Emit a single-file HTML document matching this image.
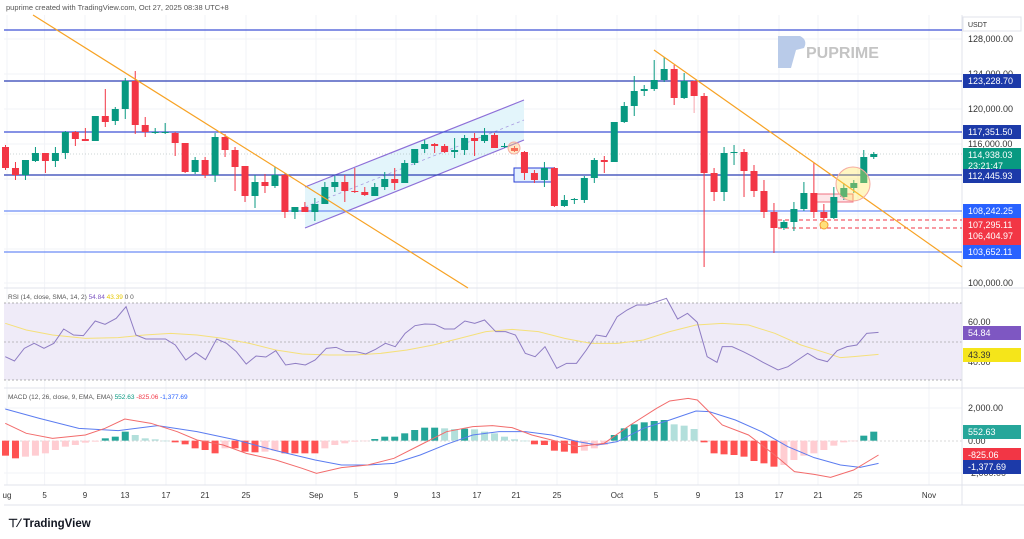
<!DOCTYPE html>
<html><head><meta charset="utf-8"><style>
body{margin:0;background:#fff;width:1024px;height:539px;overflow:hidden;font-family:"Liberation Sans",sans-serif}
svg{display:block}
</style></head><body>
<svg id="s" width="1024" height="539" xmlns="http://www.w3.org/2000/svg" font-family="Liberation Sans, sans-serif">
<rect width="1024" height="539" fill="#fff"/>
<text x="6" y="10" font-size="7.5" fill="#555">puprime created with TradingView.com, Oct 27, 2025 08:38 UTC+8</text>
<g id="grid"></g>
<!-- RSI band -->
<rect x="4" y="303" width="958" height="77" fill="#efebf8"/>
<line x1="4" y1="303" x2="962" y2="303" stroke="#999" stroke-dasharray="2,2" stroke-width="0.7"/>
<line x1="4" y1="342" x2="962" y2="342" stroke="#aaa" stroke-dasharray="2,2" stroke-width="0.7"/>
<line x1="4" y1="380" x2="962" y2="380" stroke="#999" stroke-dasharray="2,2" stroke-width="0.7"/>
<line x1="4" y1="441" x2="962" y2="441" stroke="#ccc" stroke-dasharray="2,2" stroke-width="0.7"/>
<!-- separators -->
<line x1="4" y1="288" x2="1024" y2="288" stroke="#e0e3eb"/>
<line x1="4" y1="388" x2="1024" y2="388" stroke="#e0e3eb"/>
<line x1="4" y1="485" x2="1024" y2="485" stroke="#e0e3eb"/>
<line x1="4" y1="505" x2="1024" y2="505" stroke="#e0e3eb"/>
<line x1="962" y1="15" x2="962" y2="505" stroke="#e0e3eb"/>
<!-- watermark -->
<path d="M778 36 L800 36 Q808 40 804 48 L796 50 L791 68 L778 68 Z" fill="#b9cbe9"/>
<text x="806" y="58" font-size="16" font-weight="bold" fill="#c4c4c4">PUPRIME</text>
<!-- channel -->
<polygon points="305,187 524,100 524,140 305,228" fill="#e3f5fb"/>
<line x1="305" y1="187" x2="524" y2="100" stroke="#8d6fd8" stroke-width="1.2"/>
<line x1="305" y1="228" x2="524" y2="140" stroke="#8d6fd8" stroke-width="1.2"/>
<line x1="305" y1="207" x2="524" y2="120" stroke="#a99be0" stroke-width="0.8" stroke-dasharray="3,3"/>
<!-- horizontal levels -->
<g stroke-width="1.3">
<line x1="4" y1="30" x2="962" y2="30" stroke="#3d52d5"/>
<line x1="4" y1="81" x2="962" y2="81" stroke="#2b3fb5"/>
<line x1="4" y1="132" x2="962" y2="132" stroke="#3d52d5"/>
<line x1="4" y1="175" x2="962" y2="175" stroke="#2b3fb5"/>
<line x1="4" y1="211" x2="962" y2="211" stroke="#6c8cf5"/>
<line x1="4" y1="252" x2="962" y2="252" stroke="#6c8cf5"/>
</g>
<line x1="4" y1="154" x2="962" y2="154" stroke="#9aa" stroke-width="0.6" stroke-dasharray="1,2"/>
<line x1="778" y1="220" x2="962" y2="220" stroke="#f23645" stroke-dasharray="4,3"/>
<line x1="778" y1="228" x2="962" y2="228" stroke="#f23645" stroke-dasharray="4,3"/>
<rect x="514" y="168" width="40" height="14" fill="#e3f0ff" stroke="#2b3fd5" stroke-width="1"/>
<rect x="814" y="194" width="39" height="8" fill="#fde6e8" stroke="#f07080" stroke-width="1"/>
<g id="candles"></g>
<!-- orange trendlines -->
<line x1="33" y1="15" x2="468" y2="288" stroke="#f7a224" stroke-width="1.2"/>
<line x1="654" y1="50" x2="962" y2="267" stroke="#f7a224" stroke-width="1.2"/>
<circle cx="853" cy="184" r="17" fill="rgba(255,230,80,0.35)" stroke="#f5a9a0" stroke-width="1"/>
<circle cx="514" cy="148" r="6" fill="rgba(255,200,120,0.4)" stroke="#f5a9a0"/>
<circle cx="824" cy="225" r="4" fill="#ffe07a" stroke="#f5a030"/>
<g id="ind"></g>
<!-- labels -->
<text x="8" y="299" font-size="6.5" fill="#555">RSI (14, close, SMA, 14, 2) <tspan fill="#7e57c2">54.84</tspan> <tspan fill="#e6c800">43.39</tspan> 0 0</text>
<text x="8" y="399" font-size="6.5" fill="#555">MACD (12, 26, close, 9, EMA, EMA) <tspan fill="#089981">552.63</tspan> <tspan fill="#f23645">-825.06</tspan> <tspan fill="#2962ff">-1,377.69</tspan></text>
<g id="axis" font-size="9" fill="#333"></g>
<g id="time" font-size="8" fill="#333" text-anchor="middle"></g>
<text x="8" y="527" font-size="11.5" font-weight="bold" fill="#131722">⊤⁄ TradingView</text>
</svg>
<script>
const NS="http://www.w3.org/2000/svg";
function el(p,t,a,txt){const e=document.createElementNS(NS,t);for(const k in a)e.setAttribute(k,a[k]);if(txt!==undefined)e.textContent=txt;document.getElementById(p).appendChild(e);return e;}
const X=i=>5.5+9.98*i;
// grid
const tl=[[7,"ug"],[44.6,"5"],[85,"9"],[125,"13"],[166,"17"],[205,"21"],[246,"25"],[316,"Sep"],[356,"5"],[396,"9"],[436,"13"],[477,"17"],[516,"21"],[557,"25"],[617,"Oct"],[656,"5"],[698,"9"],[739,"13"],[779,"17"],[818,"21"],[858,"25"],[929,"Nov"]];
tl.forEach(t=>{el("grid","line",{x1:t[0],x2:t[0],y1:15,y2:485,stroke:"#f2f3f7"});el("time","text",{x:t[0],y:498},t[1]);});
[39,74,109,144,179,214,249,283,322,362,408,473].forEach(y=>el("grid","line",{x1:4,x2:962,y1:y,y2:y,stroke:"#f2f3f7"}));
// candles [g/r, bodyTop, bodyBot, wickTop, wickBot]
const C=[
["r",147,168,145,170],["r",168,175,162,180],["g",160,175,160,180],["g",153,161,147,162],["r",153,161,153,173],["g",153,161,147,167],["g",132,153,131,159],["r",132,139,131,146],["r",139,141,128,141],["g",116,141,116,141],
["r",116,122,89,127],["g",109,121,107,125],["g",81,109,78,119],["r",81,125,71,134],["r",125,132,117,137],["g",132,133,128,134],["g",132,133,123,134],["r",133,143,132,156],["r",143,172,143,173],["g",160,172,157,174],
["r",160,175,157,178],["g",137,175,133,182],["r",137,150,134,157],["r",150,167,147,191],["r",166,196,166,202],["g",182,196,175,208],["r",182,186,174,193],["g",175,186,167,188],["r",175,212,173,218],["g",207,212,207,219],
["r",207,212,202,212],["g",204,212,198,221],["g",187,204,182,204],["g",182,187,176,192],["r",182,191,175,202],["r",191,192,168,193],["r",192,195,187,196],["g",187,196,183,196],["g",179,187,172,190],["r",179,183,168,190],
["g",163,183,160,183],["g",149,163,149,165],["g",144,149,140,153],["r",144,146,143,153],["r",146,152,144,153],["g",150,152,138,158],["g",138,150,135,155],["r",138,141,133,156],["g",135,141,128,143],["r",135,148,133,148],
["g",146,147,143,148],["r",148,151,146,152],
["r",152,173,151,180],["r",173,180,170,183],["g",168,180,162,187],["r",168,206,167,207],["g",200,206,195,207],["g",199,200,198,204],["g",178,200,176,203],["g",160,178,158,183],["r",160,162,156,173],
["g",122,162,122,162],["g",106,122,102,123],["g",91,106,76,116],["g",89,91,85,96],["g",80,89,60,91],["g",69,80,57,82],["r",69,98,65,105],["g",81,98,73,99],["r",81,96,80,113],["r",96,173,93,267],
["r",173,192,168,201],["g",153,192,147,201],["g",152,153,145,165],["r",152,171,149,197],["r",171,191,165,197],["r",191,212,180,218],["r",212,228,203,253],["g",222,228,220,230],["g",209,222,202,231],["g",193,209,182,211],
["r",193,212,163,218],["r",212,218,204,223],["g",197,218,187,219],["g",188,197,183,200],["g",183,188,180,193],["g",157,183,150,183],["g",154,157,152,159]];
C.forEach((c,i)=>{const x=X(i),col=c[0]=="g"?"#089981":"#f23645";
el("candles","line",{x1:x,x2:x,y1:c[3],y2:c[4],stroke:i==69?"#f7a5ad":col,"stroke-width":1});
el("candles","rect",{x:x-3.5,y:c[1],width:7,height:Math.max(1,c[2]-c[1]),fill:col});});
// RSI
const zx=v=>v/1.523, zy=v=>285+v/3;
function poly(pts,stroke,w){el("ind","polyline",{points:pts.map(p=>zx(p[0])+","+zy(p[1])).join(" "),fill:"none",stroke:stroke,"stroke-width":w});}
poly([[8,115],[40,135],[80,150],[130,160],[180,158],[220,150],[260,145],[300,150],[340,160],[380,175],[420,195],[460,207],[500,210],[540,210],[580,205],[620,195],[660,180],[700,160],[740,140],[780,133],[820,140],[860,160],[900,175],[940,175],[980,165],[1020,140],[1060,120],[1100,115],[1140,120],[1180,145],[1220,180],[1260,205],[1280,218],[1300,215],[1338,208]],"#f5e07a",1);
poly([[8,215],[22,228],[37,190],[52,175],[67,190],[82,175],[97,132],[112,150],[127,152],[145,108],[160,118],[177,100],[192,65],[207,150],[222,162],[252,162],[267,180],[283,225],[298,203],[313,224],[330,162],[345,175],[360,200],[375,237],[390,213],[405,216],[420,197],[435,240],[450,235],[465,240],[480,225],[497,190],[512,187],[527,200],[542,200],[557,207],[572,193],[587,175],[602,185],[617,145],[632,122],[647,117],[662,118],[677,132],[692,132],[708,108],[723,115],[738,105],[755,140],[770,140],[785,150],[800,205],[815,215],[830,185],[848,250],[863,235],[878,235],[893,195],[908,150],[923,155],[940,95],[955,75],[970,60],[985,60],[1000,50],[1015,40],[1032,102],[1047,85],[1062,112],[1077,215],[1092,232],[1100,185],[1115,185],[1132,200],[1147,215],[1162,232],[1185,255],[1200,245],[1215,225],[1230,205],[1245,222],[1260,230],[1275,197],[1290,185],[1305,180],[1320,145],[1338,142]],"#8e7cc3",1);
// MACD histogram
const H=[512,520,515,512,505,495,485,480,473,470,460,455,440,450,460,463,467,472,478,490,495,505,490,490,500,502,500,497,505,505,505,505,490,480,475,470,468,462,455,455,445,435,428,428,430,432,431,433,440,445,455,463,467,478,480,497,500,505,497,490,480,450,430,418,412,408,405,418,422,432,472,505,508,510,515,528,535,545,540,525,512,505,495,482,472,468,452,440];
H.forEach((h,i)=>{const v=467-h,pv=i?467-H[i-1]:0;let col;
if(v>=0)col=(v>=pv)?"#26a69a":"#b2dfdb";else col=(v<=pv)?"#ff5252":"#ffcdd2";
if(i==0)col="#ff5252";
const y1=zy(467),y2=zy(h);el("ind","rect",{x:X(i)-3.5,y:Math.min(y1,y2),width:7,height:Math.max(0.6,Math.abs(y2-y1)),fill:col});});
poly([[8,372],[60,400],[120,430],[180,437],[240,422],[300,440],[360,465],[420,497],[480,525],[520,540],[560,540],[600,535],[640,510],[680,478],[720,450],[760,440],[800,440],[840,450],[880,470],[910,480],[940,470],[980,430],[1020,405],[1060,378],[1080,380],[1120,405],[1160,440],[1200,485],[1240,518],[1280,540],[1310,547],[1338,535]],"#5b7cf0",1);
poly([[8,415],[40,445],[80,460],[130,450],[160,430],[190,402],[230,415],[270,440],[300,465],[340,480],[375,505],[420,525],[460,550],[482,565],[520,548],[560,540],[600,520],[640,480],[680,440],[720,425],[750,422],[780,428],[810,450],[850,470],[880,485],[920,475],[960,420],[1000,370],[1020,348],[1048,340],[1062,345],[1100,420],[1140,450],[1180,510],[1210,560],[1240,568],[1265,577],[1300,555],[1338,510]],"#f26b6b",1);
// price axis
el("axis","rect",{x:963,y:17,width:58,height:14,fill:"#fff",stroke:"#e0e3eb"});
el("axis","text",{x:968,y:27,"font-size":7},"USDT");
[[39,"128,000.00"],[74,"124,000.00"],[109,"120,000.00"],[144,"116,000.00"],[283,"100,000.00"],[322,"60.00"],[362,"40.00"],[408,"2,000.00"],[441,"0.00"],[473,"-2,000.00"]].forEach(t=>el("axis","text",{x:968,y:t[0]+3},t[1]));
function box(y1,h,col,lines,tc){el("axis","rect",{x:963,y:y1,width:58,height:h,fill:col});lines.forEach((l,k)=>el("axis","text",{x:968,y:y1+10+k*11,fill:tc||"#fff"},l));}
box(74,14,"#1c3aa9",["123,228.70"]);
box(125,14,"#1c3aa9",["117,351.50"]);
box(148,24,"#089981",["114,938.03","23:21:47"]);
box(169,14,"#1c3aa9",["112,445.93"]);
box(204,14,"#2962ff",["108,242.25"]);
box(218,27,"#f23645",["107,295.11","106,404.97"]);
box(245,14,"#2962ff",["103,652.11"]);
box(326,14,"#7e57c2",["54.84"]);
box(348,14,"#f5e51a",["43.39"],"#333");
box(425,14,"#26a69a",["552.63"]);
box(448,14,"#f23645",["-825.06"]);
box(460,14,"#1c3aa9",["-1,377.69"]);
</script>
</body></html>
